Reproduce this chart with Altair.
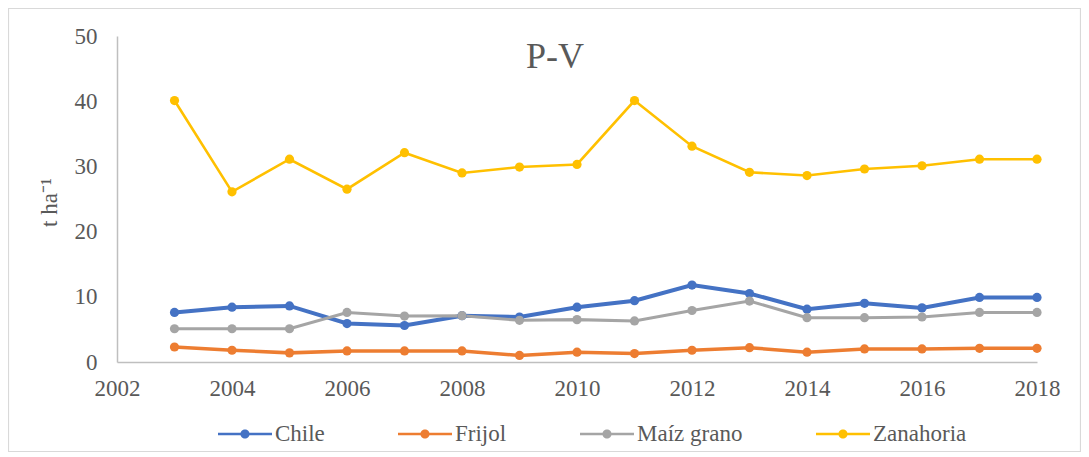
import altair as alt
import pandas as pd

years = list(range(2003, 2019))
series_names = ["Chile", "Frijol", "Maíz grano", "Zanahoria"]
chile = [7.6, 8.4, 8.6, 5.9, 5.6, 7.1, 6.9, 8.4, 9.4, 11.8, 10.5, 8.1, 9.0, 8.3, 9.9, 9.9]
frijol = [2.3, 1.8, 1.4, 1.7, 1.7, 1.7, 1.0, 1.5, 1.3, 1.8, 2.2, 1.5, 2.0, 2.0, 2.1, 2.1]
maiz = [5.1, 5.1, 5.1, 7.6, 7.05, 7.1, 6.4, 6.5, 6.3, 7.9, 9.35, 6.8, 6.8, 6.9, 7.6, 7.6]
zanahoria = [40.1, 26.1, 31.1, 26.5, 32.1, 29.0, 29.9, 30.3, 40.1, 33.1, 29.1, 28.6, 29.6, 30.1, 31.1, 31.1]
colors = ["#4472C4", "#ED7D31", "#A5A5A5", "#FFC000"]
x_ticks = [2002, 2004, 2006, 2008, 2010, 2012, 2014, 2016, 2018]
y_ticks = [0, 10, 20, 30, 40, 50]
title_text = ["P-V"]

rows = []
for name, vals in zip(series_names, [chile, frijol, maiz, zanahoria]):
    for yr, v in zip(years, vals):
        rows.append({"Año": yr, "Valor": v, "Serie": name})
df = pd.DataFrame(rows)

FONT = "Liberation Serif"
TXT = "#595959"
AX = "#BFBFBF"

legend_path = ("M-1,-0.05L1,-0.05L1,0.05L-1,0.05Z "
               "M-0.17,0A0.17,0.17 0 1,1 0.17,0A0.17,0.17 0 1,1 -0.17,0Z")

xenc = alt.X("Año:Q",
             scale=alt.Scale(domain=[2002, 2018], nice=False, zero=False),
             axis=alt.Axis(values=x_ticks, format="d", title=None, grid=False,
                           ticks=False, tickSize=0, labelPadding=15,
                           domainColor=AX, domainWidth=1.5,
                           labelFont=FONT, labelFontSize=23, labelColor=TXT,
                           labelFlush=False))
yenc = alt.Y("Valor:Q",
             scale=alt.Scale(domain=[0, 50], nice=False),
             axis=alt.Axis(values=y_ticks, title="t ha⁻¹", grid=False,
                           ticks=False, tickSize=0, labelPadding=20,
                           domainColor=AX, domainWidth=1.5,
                           labelFont=FONT, labelFontSize=23, labelColor=TXT,
                           titleFont=FONT, titleFontSize=23, titleColor=TXT,
                           titleFontWeight="normal", titleAngle=-90,
                           titleX=-68, titleY=166, titleBaseline="middle",
                           titleAlign="center"))
cscale = alt.Scale(domain=series_names, range=colors)

base = alt.Chart(df)
lines = base.mark_line().encode(
    x=xenc, y=yenc,
    color=alt.Color("Serie:N", scale=cscale, legend=None),
    strokeWidth=alt.StrokeWidth("Serie:N",
                                scale=alt.Scale(domain=series_names, range=[4, 2.6, 2.6, 2.6]),
                                legend=None),
    order=alt.Order("Año:Q"),
)
points = base.mark_point(filled=True, size=85, opacity=1, strokeWidth=0).encode(
    x="Año:Q", y="Valor:Q",
    color=alt.Color("Serie:N", scale=cscale,
                    legend=alt.Legend(title=None, orient="none", direction="horizontal",
                                      legendX=101, legendY=371,
                                      symbolType=legend_path, symbolSize=2916,
                                      symbolStrokeWidth=0, symbolOpacity=1,
                                      labelFont=FONT, labelFontSize=23, labelColor=TXT,
                                      labelOffset=3, columnPadding=73)),
)

title = alt.Chart(pd.DataFrame({"t": title_text})).mark_text(
    font=FONT, fontSize=36, color=TXT, baseline="alphabetic", align="center"
).encode(text="t:N", x=alt.value(438), y=alt.value(32))

frame = alt.Chart(pd.DataFrame({"a": [0]})).mark_rect(
    fill=None, stroke="#D9D9D9", strokeWidth=1.2
).encode(x=alt.value(-108.5), x2=alt.value(963.5), y=alt.value(-27.5), y2=alt.value(415.5))

chart = alt.layer(frame, lines, points, title).resolve_legend(
    color="independent", strokeWidth="independent"
).properties(
    width=920, height=326,
    autosize=alt.AutoSizeParams(type="none"),
    padding={"left": 109, "top": 28, "right": 44, "bottom": 95},
).configure(background="white", font=FONT).configure_view(stroke=None).configure_axis(
    labelFont=FONT, titleFont=FONT
).configure_legend(labelFont=FONT, symbolStrokeWidth=0)

chart.save("out.html", embed_options={"renderer": "svg", "actions": False})
